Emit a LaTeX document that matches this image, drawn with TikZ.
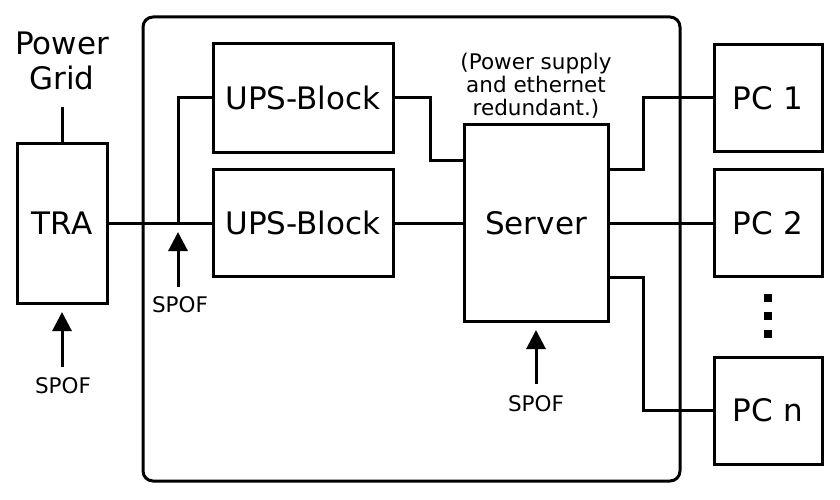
\documentclass[tikz,border=0pt]{standalone}
\usepackage{fontspec}
\setmainfont{DejaVu Sans}
\usetikzlibrary{arrows.meta}
\begin{document}
\begin{tikzpicture}[x=1pt,y=-1pt,
  box/.style={draw=black,line width=3pt,rectangle,inner sep=0pt,font=\fontsize{31}{34}\selectfont},
  wire/.style={draw=black,line width=3pt},
  big/.style={font=\fontsize{31}{35}\selectfont,inner sep=0pt,align=center},
  small/.style={font=\fontsize{21.5}{23}\selectfont,inner sep=0pt,align=center},
  spofarrow/.style={line width=3pt,-{Triangle[length=19pt,width=19pt]}},
  dotsq/.style={fill=black,minimum size=8pt,inner sep=0pt,rectangle}]
\useasboundingbox[fill=white] (0,0) rectangle (840,500);
% frame
\node[draw=black,line width=3pt,rounded corners=10pt,minimum width=537pt,minimum height=464pt,inner sep=0pt] (frame) at (411.5,249) {};
% boxes
\node[big] (pg) at (62,61) {Power\\Grid};
\node[box,minimum width=90pt,minimum height=160pt] (tra) at (62,223) {TRA};
\node[box,minimum width=180pt,minimum height=108pt] (ups1) at (303,98) {UPS-Block};
\node[box,minimum width=180pt,minimum height=107pt] (ups2) at (303,223) {UPS-Block};
\node[box,minimum width=144pt,minimum height=196pt] (server) at (536,223) {Server};
\node[small] (note) at (536,86) {(Power supply\\and ethernet\\redundant.)};
\node[box,minimum width=108pt,minimum height=107pt] (pc1) at (768,98) {PC\,\,1};
\node[box,minimum width=108pt,minimum height=107pt] (pc2) at (768,223) {PC\,\,2};
\node[box,minimum width=108pt,minimum height=107pt] (pcn) at (768,410.5) {PC\,\,n};
\node[dotsq] (d1) at (768,298) {};
\node[dotsq] (d2) at (768,316) {};
\node[dotsq] (d3) at (768,334) {};
% SPOF labels
\node[small] (sp1) at (63,386) {SPOF};
\node[small] (sp2) at (180,305) {SPOF};
\node[small] (sp3) at (536,404) {SPOF};
% coordinates
\coordinate (pgl) at (62,107);
\coordinate (j) at (178,223);
\coordinate (a1s) at (62,367);
\coordinate (a1t) at (62,312);
\coordinate (a2s) at (178,287);
\coordinate (a2t) at (178,232);
\coordinate (a3s) at (536,384);
\coordinate (a3t) at (536,330);
% connectors
\draw[wire] (pgl) -- (tra.north);
\draw[wire] (tra.east) -- (ups2.west);
\draw[wire] (j) |- (ups1.west);
\draw[wire] (ups1.east) -| (430,160) -- (server.west |- 0,160);
\draw[wire] (ups2.east) -- (server.west);
\draw[wire] (server.east |- 0,169) -| (643,98) -- (pc1.west);
\draw[wire] (server.east) -- (pc2.west);
\draw[wire] (server.east |- 0,277) -| (643,410.5) -- (pcn.west);
% arrows
\draw[spofarrow] (a1s) -- (a1t);
\draw[spofarrow] (a2s) -- (a2t);
\draw[spofarrow] (a3s) -- (a3t);
\end{tikzpicture}
\end{document}
